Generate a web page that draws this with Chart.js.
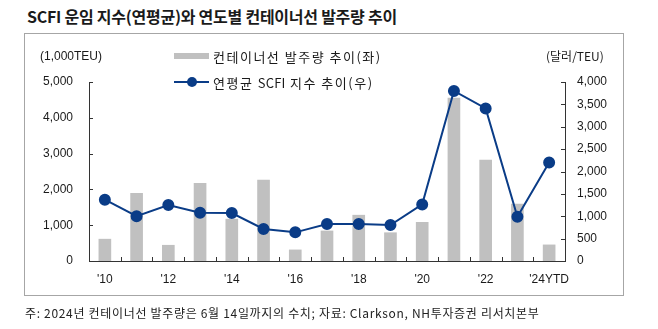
<!DOCTYPE html>
<html>
<head>
<meta charset="utf-8">
<script src="https://cdn.jsdelivr.net/npm/chart.js@4"></script>
<style>
  html, body { margin: 0; padding: 0; background: #fff; }
  body { width: 658px; height: 329px; position: relative; overflow: hidden;
         font-family: "Noto Sans CJK KR", "Liberation Sans", sans-serif; color: #1a1a1a; }
  #title { position: absolute; left: 27px; top: 4px; font-size: 16px; font-weight: 700;
           letter-spacing: -0.25px; white-space: nowrap; }
  #box { position: absolute; left: 24px; top: 33px; width: 598px; height: 261px;
         border: 1px solid #a6a6a6; }
  #chart { position: absolute; left: 0; top: 0; }
  .unit { position: absolute; font-family: "Liberation Sans", Arial, sans-serif; font-size: 12px; }
  .unit.kr { font-family: "Noto Sans CJK KR", sans-serif; }
  .leg { position: absolute; left: 174px; font-size: 13px; white-space: nowrap; letter-spacing: 1.5px; }
  .leg .sw { position: absolute; left: 0; top: 50%; }
  .leg span.txt { position: absolute; left: 39px; transform: translateY(-50%); top: 0; }
  .leg .lat { letter-spacing: 0.2px; }
  #note { position: absolute; left: 25px; top: 304px; font-size: 12px; letter-spacing: 0.68px;
          white-space: nowrap; color: #222; }
</style>
</head>
<body>
<div id="title">SCFI 운임 지수(연평균)와 연도별 컨테이너선 발주량 추이</div>
<div id="box"></div>
<canvas id="chart" width="658" height="329"></canvas>
<div class="unit" style="left:40px; top:49px;">(1,000TEU)</div>
<div class="unit kr" style="left:546px; top:47px;">(달러/TEU)</div>
<div class="leg" style="top:56px;">
  <div class="sw" style="width:35px; height:6px; margin-top:-3px; background:#c0c0c0;"></div>
  <span class="txt">컨테이너선 발주량 추이(좌)</span>
</div>
<div class="leg" style="top:82px;">
  <div class="sw" style="width:35px; height:2px; margin-top:-1px; background:#0a3c87;"></div>
  <div class="sw" style="left:13px; width:10px; height:10px; margin-top:-5px; border-radius:50%; background:#0a3c87;"></div>
  <span class="txt">연평균 <span class="lat">SCFI</span> 지수 추이(우)</span>
</div>
<div id="note">주: 2024년 컨테이너선 발주량은 6월 14일까지의 수치; 자료: Clarkson, NH투자증권 리서치본부</div>

<script>
// years 2010 ~ 2024 (2024 = YTD)
const years = ["'10", "'11", "'12", "'13", "'14", "'15", "'16", "'17", "'18", "'19", "'20", "'21", "'22", "'23", "'24YTD"];
// container ship orders, 1,000 TEU (left axis)
const orders = [610, 1890, 440, 2170, 1170, 2260, 310, 840, 1280, 790, 1080, 4550, 2820, 1590, 450];
// annual average SCFI, USD/TEU (right axis)
const scfi = [1370, 1000, 1250, 1080, 1070, 715, 640, 825, 825, 805, 1265, 3800, 3410, 990, 2200];

const leftTicks = [0, 1000, 2000, 3000, 4000, 5000];
const rightTicks = [0, 500, 1000, 1500, 2000, 2500, 3000, 3500, 4000];

const navy = '#0a3c87';
const axisColor = '#333333';
const fmt = new Intl.NumberFormat('en-US');
const tickFont = { family: 'Liberation Sans, Arial, sans-serif', size: 12 };

// small inward tick marks like the original Excel chart
const innerTicks = {
    id: 'innerTicks',
    afterDatasetsDraw(chart) {
        const { ctx, chartArea: a, scales } = chart;
        ctx.save();
        ctx.strokeStyle = axisColor;
        ctx.lineWidth = 1;
        ctx.beginPath();
        leftTicks.forEach(v => {
            const y = Math.round(scales.y.getPixelForValue(v)) + 0.5;
            ctx.moveTo(a.left, y); ctx.lineTo(a.left + 4, y);
        });
        rightTicks.forEach(v => {
            const y = Math.round(scales.y1.getPixelForValue(v)) + 0.5;
            ctx.moveTo(a.right - 4, y); ctx.lineTo(a.right, y);
        });
        const step = scales.x.getPixelForValue(1) - scales.x.getPixelForValue(0);
        for (let i = 0; i <= years.length; i++) {
            const x = Math.round(scales.x.getPixelForValue(i) - step / 2) + 0.5;
            ctx.moveTo(x, a.bottom); ctx.lineTo(x, a.bottom - 4);
        }
        ctx.stroke();
        ctx.restore();
    }
};

new Chart(document.getElementById('chart'), {
    data: {
        labels: years,
        datasets: [
            {
                type: 'line',
                label: '연평균 SCFI 지수 추이(우)',
                data: scfi,
                yAxisID: 'y1',
                borderColor: navy,
                backgroundColor: navy,
                borderWidth: 2,
                pointRadius: 5,
                pointBackgroundColor: navy,
                pointBorderColor: navy,
                tension: 0,
                order: 0
            },
            {
                type: 'bar',
                label: '컨테이너선 발주량 추이(좌)',
                data: orders,
                yAxisID: 'y',
                backgroundColor: '#c0c0c0',
                barThickness: 12,
                order: 1
            }
        ]
    },
    options: {
        responsive: false,
        animation: false,
        devicePixelRatio: 1,
        layout: { padding: { top: 82, bottom: 28, left: 0, right: 0 } },
        plugins: { legend: { display: false }, tooltip: { enabled: false } },
        scales: {
            x: {
                grid: { display: false, drawTicks: false },
                border: { display: true, color: axisColor },
                ticks: {
                    color: '#1a1a1a', font: tickFont, padding: 11,
                    autoSkip: false, maxRotation: 0,
                    callback: (v, i) => (i % 2 === 0 ? years[i] : '')
                },
                afterFit: s => { s.height = 40; }
            },
            y: {
                position: 'left',
                min: 0, max: 5000,
                afterBuildTicks: s => { s.ticks = leftTicks.map(v => ({ value: v })); },
                grid: { display: false, drawTicks: false },
                border: { display: true, color: axisColor },
                ticks: { color: '#1a1a1a', font: tickFont, padding: 16, callback: v => fmt.format(v) },
                afterFit: s => { s.width = 89; }
            },
            y1: {
                position: 'right',
                min: 0, max: 4000,
                afterBuildTicks: s => { s.ticks = rightTicks.map(v => ({ value: v })); },
                grid: { display: false, drawTicks: false },
                border: { display: true, color: axisColor },
                ticks: { color: '#1a1a1a', font: tickFont, padding: 12, callback: v => fmt.format(v) },
                afterFit: s => { s.width = 93; }
            }
        }
    },
    plugins: [innerTicks]
});
</script>
</body>
</html>
